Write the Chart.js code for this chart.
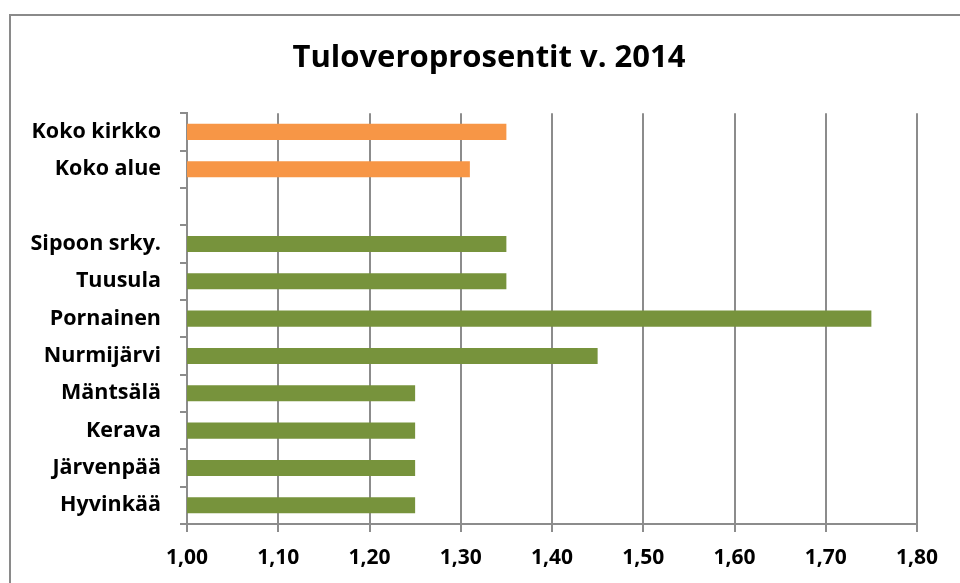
<!DOCTYPE html>
<html>
<head>
<meta charset="utf-8">
<script src="https://cdn.jsdelivr.net/npm/chart.js@4"></script>
<style>
    html, body { margin: 0; padding: 0; background: #fff; }
    #wrap { width: 960px; height: 583px; position: relative; }
</style>
</head>
<body>
<div id="wrap"><canvas id="taxChart" width="960" height="583"></canvas></div>
<script>
// categories top to bottom, the empty one is the gap row
const labels = ['Koko kirkko', 'Koko alue', '', 'Sipoon srky.', 'Tuusula', 'Pornainen',
    'Nurmijärvi', 'Mäntsälä', 'Kerava', 'Järvenpää', 'Hyvinkää'];
const rates = [1.35, 1.31, null, 1.35, 1.35, 1.75, 1.45, 1.25, 1.25, 1.25, 1.25];
const groups = ['total', 'total', 'total', 'parish', 'parish', 'parish',
    'parish', 'parish', 'parish', 'parish', 'parish'];
const xTicks = [1.0, 1.1, 1.2, 1.3, 1.4, 1.5, 1.6, 1.7, 1.8];

const groupColors = { total: '#F79646', parish: '#77933C' };
const gridGray = '#8c8c8c';
const fontFamily = '"Open Sans", Lato, sans-serif';

const frame = {
    id: 'frame',
    afterLayout(chart) {
        // nudge the title right so it centres like the original
        if (chart.titleBlock) {
            chart.titleBlock.left += 51;
        }
    },
    beforeDraw(chart) {
        const ctx = chart.ctx;
        ctx.save();
        ctx.fillStyle = '#fff';
        ctx.fillRect(0, 0, chart.width, chart.height);
        ctx.strokeStyle = '#8a8a8a';
        ctx.lineWidth = 2;
        ctx.strokeRect(10, 15, chart.width + 20, chart.height + 20);
        ctx.restore();
    }
};

const ctx = document.getElementById('taxChart').getContext('2d');
new Chart(ctx, {
    type: 'bar',
    data: {
        labels: labels,
        datasets: [{
            data: rates,
            backgroundColor: groups.map(g => groupColors[g]),
            barPercentage: 0.43,
            categoryPercentage: 1
        }]
    },
    options: {
        indexAxis: 'y',
        responsive: false,
        animation: false,
        layout: { padding: { left: 10, right: 43, top: 0, bottom: 0 } },
        plugins: {
            legend: { display: false },
            tooltip: { enabled: false },
            title: {
                display: true,
                text: 'Tuloveroprosentit v. 2014',
                color: '#000',
                font: { family: fontFamily, size: 31, weight: 'bold' },
                padding: { top: 40, bottom: 36 }
            }
        },
        scales: {
            x: {
                min: xTicks[0],
                max: xTicks[xTicks.length - 1],
                afterBuildTicks: (scale) => {
                    scale.ticks = xTicks.map(v => ({ value: v }));
                },
                afterFit: (scale) => { scale.height = 59; },
                ticks: {
                    color: '#000',
                    padding: 13,
                    font: { family: fontFamily, size: 21, weight: 'bold' },
                    callback: (v) => Number(v).toFixed(2).replace('.', ',')
                },
                grid: { color: gridGray, lineWidth: 2, tickLength: 8 },
                border: { color: gridGray, width: 2 }
            },
            y: {
                afterFit: (scale) => { scale.width = 177; },
                ticks: {
                    color: '#000',
                    padding: 19,
                    autoSkip: false,
                    font: { family: fontFamily, size: 21.5, weight: 'bold' }
                },
                grid: { drawOnChartArea: false, color: gridGray, lineWidth: 2, tickLength: 7 },
                border: { color: gridGray, width: 2 }
            }
        }
    },
    plugins: [frame]
});
</script>
</body>
</html>
